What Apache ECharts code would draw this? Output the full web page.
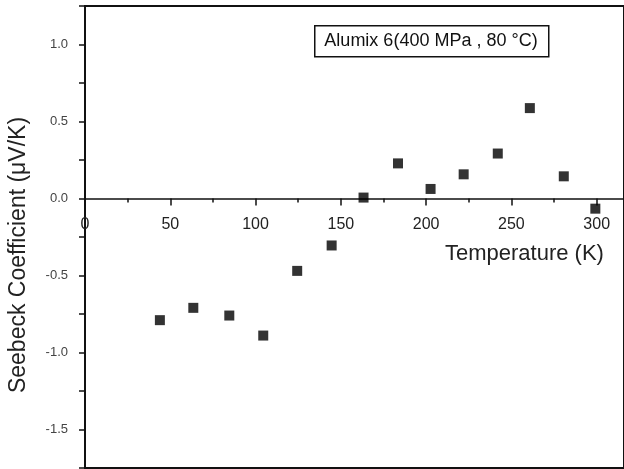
<!DOCTYPE html>
<html>
<head>
<meta charset="UTF-8">
<title>Seebeck Coefficient</title>
<script src="https://cdn.jsdelivr.net/npm/echarts@6/dist/echarts.min.js"></script>
<style>
  body {
    margin:0px;
    background-color:#fff;
  }
  #chart {
    width:624px;
    height:469px;
  }
</style>
</head>
<body>
<div id="chart"></div>
<script>

// 测量数据：温度 (K) 与 Seebeck 系数 (μV/K)
var temperature = [43.9, 63.5, 84.6, 104.5, 124.4, 144.6, 163.3, 183.5, 202.6, 222.0, 242.0, 260.8, 280.7, 299.2];
var seebeck = [-0.79, -0.71, -0.76, -0.89, -0.47, -0.305, 0.006, 0.228, 0.062, 0.157, 0.292, 0.587, 0.144, -0.066];

var xLabelValues = [0, 50, 100, 150, 200, 250, 300];
var yLabelValues = [-1.5, -1.0, -0.5, 0.0, 0.5, 1.0];

var xTitle = 'Temperature (K)';
var yTitle = 'Seebeck Coefficient (μV/K)';
var legendText = 'Alumix 6(400 MPa , 80 °C)';

var fontName = 'Arial, "Liberation Sans", sans-serif';

var points = [];
for (var i = 0; i < temperature.length; i++)
  points.push([temperature[i], seebeck[i]]);

var gridTop = 6, gridHeight = 462;
var yMin = -1.75, yMax = 1.25;
// 标签轴从底边上移到 y=0 处
var zeroOffset = -(0 - yMin) / (yMax - yMin) * gridHeight;

var myChart = echarts.init(document.getElementById('chart'), null, {renderer: 'canvas'});

var option = {
  animation: false,
  grid: {
    left: 85,
    top: gridTop,
    right: 0,
    height: gridHeight,
    containLabel: false,
    outerBoundsMode: 'none',
    show: true,
    borderColor: '#111',
    borderWidth: 2,
    backgroundColor: 'transparent'
  },
  xAxis: [{
    // 次刻度 25，位于 y=0
    type: 'value',
    min: 0,
    max: 316,
    interval: 25,
    axisLine: {onZero: true, lineStyle: {color: '#111', width: 1.5}},
    axisTick: {show: true, inside: false, length: 4, lineStyle: {color: '#111', width: 1.5}},
    axisLabel: {show: false},
    splitLine: {show: false}
  }, {
    // 主刻度 50 与标签
    type: 'value',
    min: 0,
    max: 316,
    interval: 50,
    position: 'bottom',
    offset: zeroOffset,
    axisLine: {show: false, onZero: false},
    axisTick: {show: true, inside: false, length: 7, lineStyle: {color: '#111', width: 1.5}},
    axisLabel: {
      show: true,
      margin: 18,
      color: '#222',
      fontFamily: fontName,
      fontSize: 16,
      formatter: function(v) {
        return xLabelValues.indexOf(v) >= 0 ? String(v) : '';
      }
    },
    splitLine: {show: false}
  }],
  yAxis: {
    type: 'value',
    min: yMin,
    max: yMax,
    interval: 0.25,
    axisLine: {show: true, lineStyle: {color: '#111', width: 2}},
    axisTick: {show: true, inside: false, length: 6, lineStyle: {color: '#111', width: 1.5}},
    axisLabel: {
      margin: 17,
      color: '#444',
      fontFamily: fontName,
      fontSize: 13,
      formatter: function(v) {
        for (var k = 0; k < yLabelValues.length; k++)
          if (Math.abs(yLabelValues[k] - v) < 1e-6) return v.toFixed(1);
        return '';
      }
    },
    splitLine: {show: false}
  },
  series: [{
    type: 'scatter',
    xAxisIndex: 0,
    symbol: 'rect',
    symbolSize: 10,
    itemStyle: {color: '#000'},
    data: points
  }],
  graphic: [{
    type: 'text',
    x: 19,
    y: 255,
    rotation: Math.PI / 2,
    style: {
      text: yTitle,
      fill: '#222',
      font: '23px ' + fontName,
      align: 'center',
      verticalAlign: 'middle'
    }
  }, {
    type: 'text',
    left: 445,
    top: 243,
    style: {
      text: xTitle,
      fill: '#222',
      font: '22px ' + fontName
    }
  }, {
    type: 'rect',
    left: 314,
    top: 25,
    shape: {width: 234, height: 31},
    style: {fill: '#fff', stroke: '#111', lineWidth: 1.5}
  }, {
    type: 'text',
    x: 431,
    y: 41,
    style: {
      text: legendText,
      fill: '#111',
      font: '18px ' + fontName,
      align: 'center',
      verticalAlign: 'middle'
    }
  }]
};
myChart.setOption(option);

</script>
</body>
</html>
